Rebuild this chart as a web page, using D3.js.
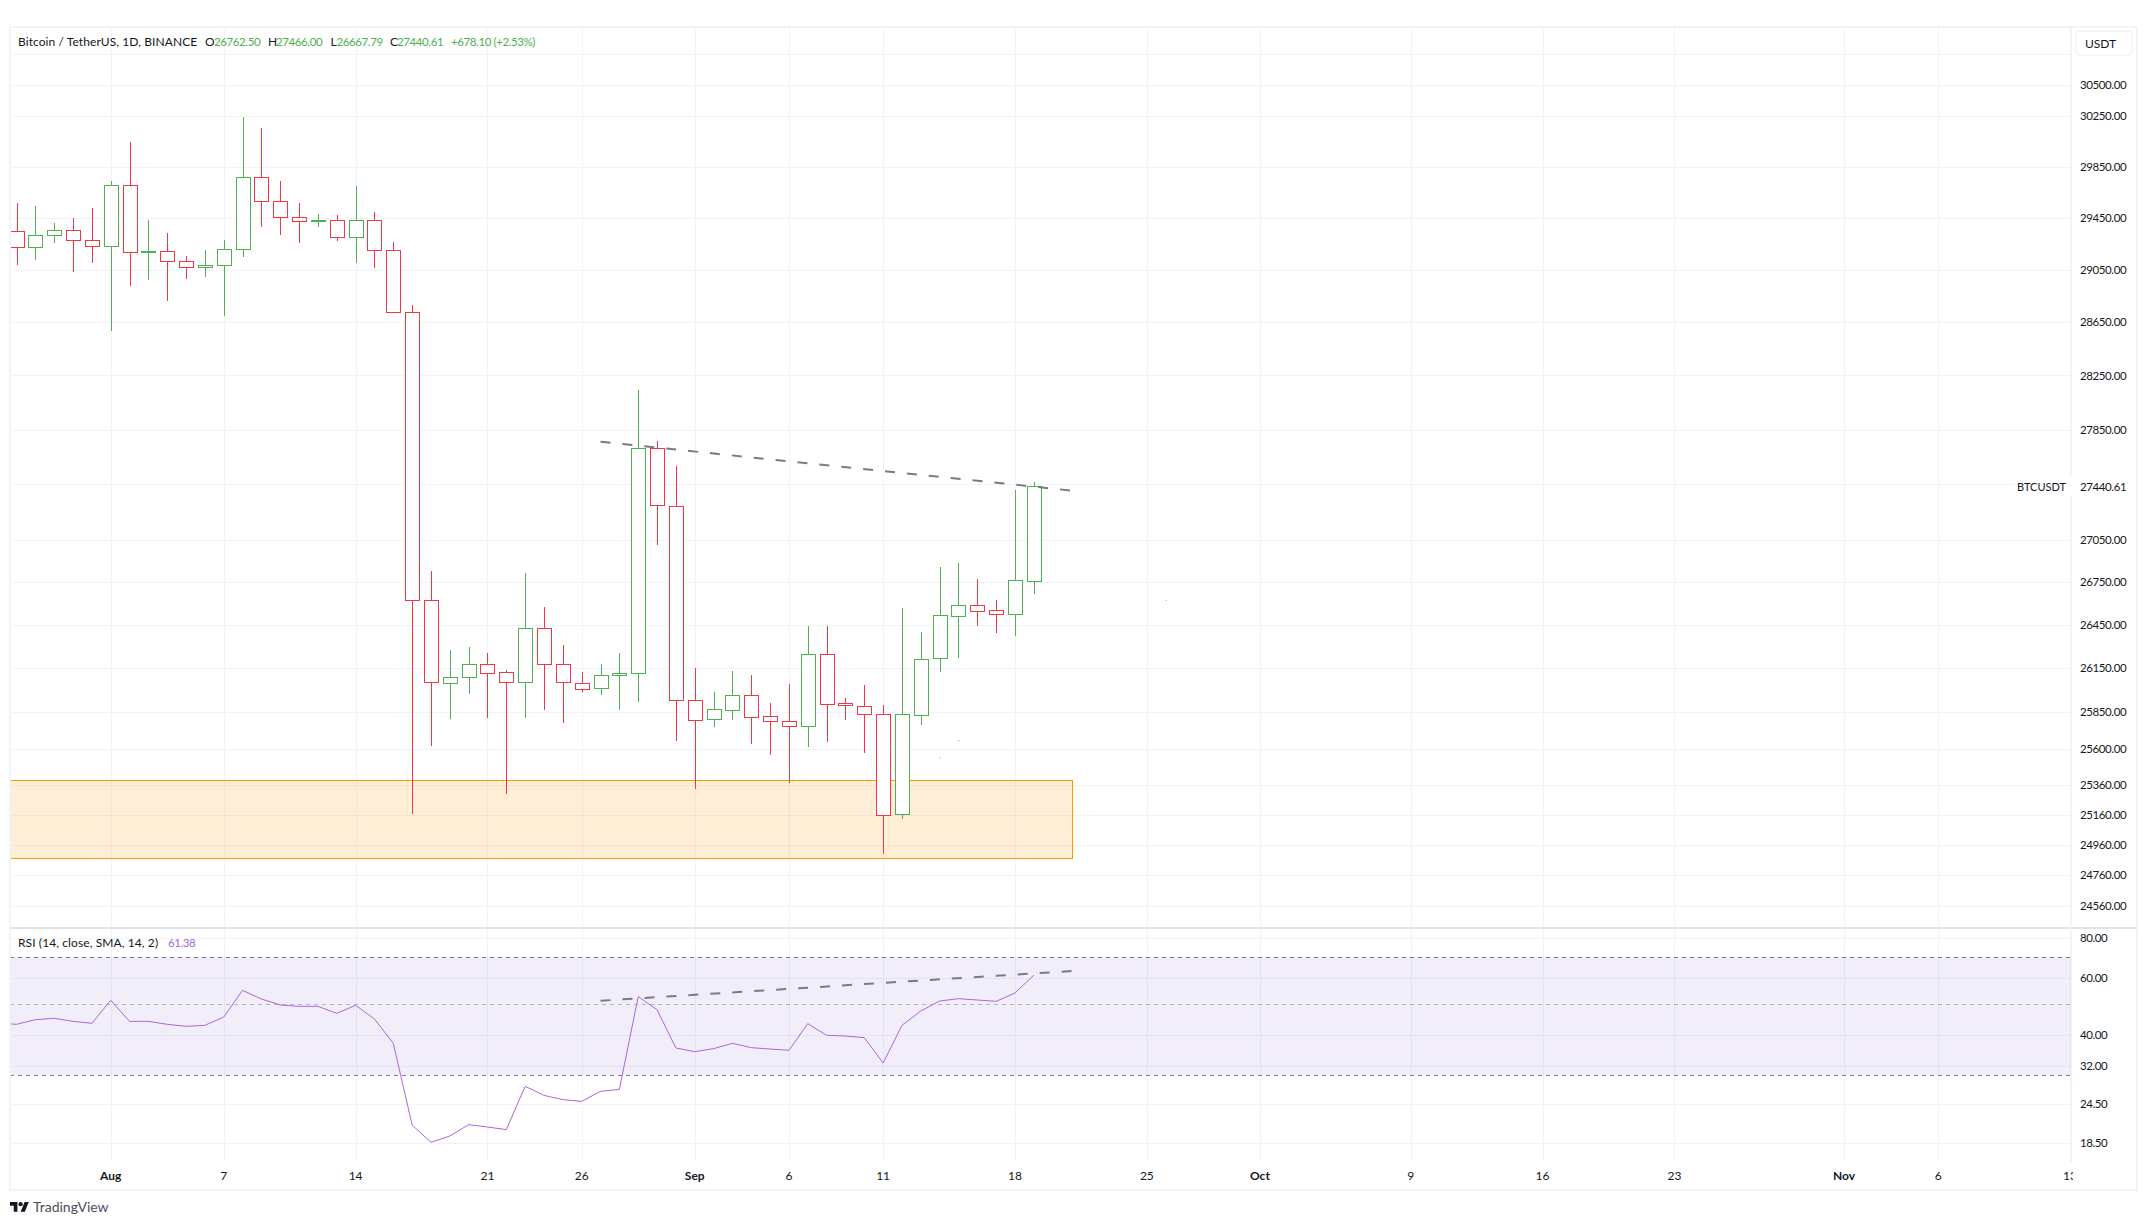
<!DOCTYPE html>
<html>
<head>
<meta charset="utf-8">
<script src="https://cdn.jsdelivr.net/npm/d3@7/dist/d3.min.js"></script>
<style>
html,body{margin:0;padding:0;background:#fff;}
svg{display:block;}
text{font-family:Lato,"Noto Sans",sans-serif;fill:#131722;}
</style>
</head>
<body>
<svg id="chart" width="2146" height="1225"></svg>
<script>
const firstDay = "2023-07-27";
const opens  = [29345,29222,29315,29353,29276,29229,29704,29180,29191,29114,29068,29083,29206,29766,29578,29454,29423,29431,29299,29431,29199,28725,26623,26051,26093,26182,26122,26051,26427,26176,26051,26009,26098,26114,27711,27296,25933,25796,25867,25969,25820,25786,25755,26251,25909,25893,25839,25159,25833,26217,26518,26593,26552,26523,26762.5];
const highs  = [29565,29541,29409,29448,29526,29737,30045,29433,29332,29154,29201,29278,30244,30156,29737,29565,29479,29471,29698,29495,29263,28781,26830,26275,26297,26254,26137,26815,26574,26310,26125,26176,26254,28143,27765,27583,26151,25985,26130,26104,25912,26040,26443,26443,25946,26035,25896,26569,26400,26858,26885,26773,26626,27408,27466];
const lows   = [29085,29124,29256,29032,29101,28583,28925,28970,28810,28978,28994,28697,29146,29378,29315,29256,29378,29271,29101,29062,28725,25164,25618,25802,25972,25807,25296,25807,25862,25773,25985,25964,25862,25917,27012,25651,25330,25747,25794,25631,25558,25371,25613,25646,25794,25571,24899,25129,25760,26122,26220,26443,26393,26374,26667.79];
const closes = [29222,29315,29353,29276,29229,29704,29183,29191,29114,29068,29083,29206,29766,29578,29454,29423,29431,29299,29431,29199,28725,26623,26051,26093,26182,26122,26051,26427,26176,26051,26009,26101,26114,27711,27296,25933,25796,25867,25969,25818,25786,25755,26251,25906,25893,25839,25159,25833,26217,26518,26593,26552,26523,26762.5,27440.61];

const rsiFirstDay = "2023-07-26";
const rsiValues = [43.59,43.18,44.64,45.07,44.11,43.49,51.26,44.11,44.11,43.18,42.57,42.87,45.50,55.05,51.74,49.58,49.10,49.10,46.71,49.46,44.86,37.70,21.04,18.59,19.45,21.09,20.74,20.35,27.73,26.00,25.21,24.91,26.76,27.14,52.62,47.94,36.47,35.52,36.29,37.70,36.55,36.20,35.86,43.38,39.92,39.73,39.26,32.76,42.87,47.50,51.01,51.86,51.38,50.89,54.01,61.38];

const priceTicks = [30500,30250,29850,29450,29050,28650,28250,27850,27050,26750,26450,26150,25850,25600,25360,25160,24960,24760,24560];
const hiddenPriceGrid = [30750,27450];
const rsiTicks = [80,60,40,32,24.5,18.5];
const rsiBands = [70,50,30];

const dateTicks = ["2023-08-01","2023-08-07","2023-08-14","2023-08-21","2023-08-26","2023-09-01","2023-09-06","2023-09-11","2023-09-18","2023-09-25","2023-10-01","2023-10-09","2023-10-16","2023-10-23","2023-11-01","2023-11-06","2023-11-13"];
const dateLabels = ["Aug","7","14","21","26","Sep","6","11","18","25","Oct","9","16","23","Nov","6","13"];
const monthLabels = ["Aug","Sep","Oct","Nov"];

const trendDates = ["2023-08-27","2023-09-21"];
const trendPrices = [27760,27405];
const trendRsi = [51.1,63.2];
const zoneDates = ["2023-07-01","2023-09-21"];
const zonePrices = [25392,24872];
const speckDates = ["2023-09-15","2023-09-14","2023-09-26"];
const speckPrices = [25660,25544,26626];

const lastPrice = 27440.61;
const legendLine = [
  ["Bitcoin / TetherUS, 1D, BINANCE",18,"#131722",0],
  ["O",205,"#131722",0],["26762.50",214,"#4caf50",1],
  ["H",268,"#131722",0],["27466.00",276,"#4caf50",1],
  ["L",330.5,"#131722",0],["26667.79",336.5,"#4caf50",1],
  ["C",390,"#131722",0],["27440.61",397,"#4caf50",1],
  ["+678.10 (+2.53%)",451,"#4caf50",1]
];

const UP="#4caf50", DOWN="#f23645", GRID="#f0f3fa", RSI="#ab66d6", DASH="#787b86";
const L=10, R=2071, FR=2137, TOP=27, DIV=927.5, PB=1162, FB=1190;

const day = s => new Date(s+"T00:00:00Z");
const addDays = (d,n) => new Date(d.getTime()+n*864e5);

const x = d3.scaleUtc().domain([day("2023-08-01"),day("2023-09-18")]).range([110.7,1015]);
const y = d3.scaleLog().domain([30500,24560]).range([85,906]);
const yr = d3.scaleLog().domain([80,18.5]).range([938,1143]);
const px = v => Math.round(v)+0.5;

const svg = d3.select("#chart");
const defs = svg.append("defs");
defs.append("clipPath").attr("id","cMain").append("rect").attr("x",L).attr("y",TOP).attr("width",R-L+1).attr("height",DIV-TOP);
defs.append("clipPath").attr("id","cRsi").append("rect").attr("x",L).attr("y",DIV).attr("width",R-L).attr("height",PB-DIV);
defs.append("clipPath").attr("id","cAxis").append("rect").attr("x",L).attr("y",PB).attr("width",R-L+2).attr("height",FB-PB);

// grid
const grid = svg.append("g").attr("stroke",GRID).attr("stroke-width",1).attr("shape-rendering","crispEdges");
grid.selectAll(".v").data(dateTicks).join("line").attr("class","v")
  .attr("x1",d=>px(x(day(d)))).attr("x2",d=>px(x(day(d)))).attr("y1",TOP).attr("y2",PB);
grid.selectAll(".h").data(priceTicks.concat(hiddenPriceGrid)).join("line").attr("class","h")
  .attr("x1",L).attr("x2",R).attr("y1",d=>px(y(d))).attr("y2",d=>px(y(d)));
grid.selectAll(".r").data(rsiTicks).join("line").attr("class","r")
  .attr("x1",L).attr("x2",R).attr("y1",d=>px(yr(d))).attr("y2",d=>px(yr(d)));

// zone
const main = svg.append("g").attr("clip-path","url(#cMain)");
main.append("rect")
  .attr("x",x(day(zoneDates[0]))).attr("width",x(day(zoneDates[1]))-x(day(zoneDates[0]))+0.5)
  .attr("y",px(y(zonePrices[0]))).attr("height",Math.round(y(zonePrices[1])-y(zonePrices[0])))
  .attr("fill","#ff9800").attr("fill-opacity",0.16).attr("stroke","#ff9800").attr("stroke-width",1).attr("shape-rendering","crispEdges");

// candles
const candles = opens.map((o,i)=>({date:addDays(day(firstDay),i),o,h:highs[i],l:lows[i],c:closes[i]}));
const cg = main.selectAll(".candle").data(candles).join("g").attr("class","candle").attr("shape-rendering","crispEdges");
const col = d => d.c>=d.o?UP:DOWN;
cg.append("line").attr("x1",d=>px(x(d.date))).attr("x2",d=>px(x(d.date)))
  .attr("y1",d=>y(d.h)).attr("y2",d=>y(Math.max(d.o,d.c))).attr("stroke",col);
cg.append("line").attr("x1",d=>px(x(d.date))).attr("x2",d=>px(x(d.date)))
  .attr("y1",d=>y(Math.min(d.o,d.c))).attr("y2",d=>y(d.l)).attr("stroke",col);
cg.append("rect").attr("x",d=>px(x(d.date))-7).attr("width",14)
  .attr("y",d=>px(y(Math.max(d.o,d.c))))
  .attr("height",d=>Math.max(1,Math.round(y(Math.min(d.o,d.c))-y(Math.max(d.o,d.c)))))
  .attr("fill","#fff").attr("stroke",col).attr("stroke-width",1);

// trend price
const dashed = d3.line();
main.append("path").attr("d",dashed(trendDates.map((d,i)=>[x(day(d)),y(trendPrices[i])])))
  .attr("fill","none").attr("stroke",DASH).attr("stroke-width",2).attr("stroke-dasharray","10 12");
main.selectAll(".speck").data(speckDates).join("rect").attr("class","speck")
  .attr("x",d=>x(day(d))).attr("y",(d,i)=>y(speckPrices[i])).attr("width",1).attr("height",1).attr("fill","#999");

// RSI pane
const rp = svg.append("g").attr("clip-path","url(#cRsi)");
rp.append("rect").attr("x",L).attr("width",R-L).attr("y",yr(rsiBands[0])).attr("height",yr(rsiBands[2])-yr(rsiBands[0]))
  .attr("fill","#7e57c2").attr("fill-opacity",0.1);
rp.selectAll(".band").data(rsiBands).join("line").attr("class","band")
  .attr("x1",L).attr("x2",R).attr("y1",d=>px(yr(d))).attr("y2",d=>px(yr(d)))
  .attr("stroke",DASH).attr("stroke-dasharray","4 4").attr("stroke-opacity",d=>d===50?0.5:1)
  .attr("shape-rendering","crispEdges");
const rline = d3.line().x((d,i)=>x(addDays(day(rsiFirstDay),i))).y(d=>yr(d));
rp.append("path").attr("d",rline(rsiValues)).attr("fill","none").attr("stroke",RSI).attr("stroke-width",1);
rp.append("path").attr("d",dashed(trendDates.map((d,i)=>[x(day(d)),yr(trendRsi[i])])))
  .attr("fill","none").attr("stroke",DASH).attr("stroke-width",2).attr("stroke-dasharray","10 12");

// frame
const fr = svg.append("g").attr("fill","none").attr("shape-rendering","crispEdges");
fr.append("rect").attr("x",L).attr("y",TOP).attr("width",FR-L).attr("height",FB-TOP).attr("stroke",GRID).attr("stroke-width",2);
fr.append("line").attr("x1",L).attr("x2",FR).attr("y1",DIV).attr("y2",DIV).attr("stroke","#e0e3eb").attr("stroke-width",2);
fr.append("line").attr("x1",R).attr("x2",R).attr("y1",TOP).attr("y2",PB).attr("stroke",GRID).attr("stroke-width",1);

// price axes
const NUMF = 11.5, NUMS = "-0.4px", WORDF = 12;
const ax = d3.axisRight(y).tickValues(priceTicks).tickSize(0).tickPadding(0).tickFormat(d3.format(".2f"));
const axG = svg.append("g").attr("transform",`translate(2080,0)`).call(ax);
const axR = d3.axisRight(yr).tickValues(rsiTicks).tickSize(0).tickPadding(0).tickFormat(d3.format(".2f"));
const axRG = svg.append("g").attr("transform",`translate(2080,0)`).call(axR);
[axG,axRG].forEach(g=>{g.attr("font-family",null); g.select(".domain").remove();
  g.selectAll("text").attr("font-size",NUMF).style("letter-spacing",NUMS).style("font-family","Lato").style("fill","#131722");});

svg.append("rect").attr("x",2014).attr("y",y(lastPrice)-9).attr("width",60).attr("height",20).attr("fill","#fff");
svg.append("text").attr("x",2066).attr("y",y(lastPrice)+1.5).attr("dy","0.32em").attr("text-anchor","end").attr("font-size",11).text("BTCUSDT");
svg.append("text").attr("x",2080).attr("y",y(lastPrice)+1.5).attr("dy","0.32em").attr("font-size",NUMF).style("letter-spacing",NUMS).text(d3.format(".2f")(lastPrice));

// unit box
svg.append("rect").attr("x",2076).attr("y",31).attr("width",56).attr("height",24).attr("rx",4).attr("fill","#fff").attr("stroke","#eceef3").attr("stroke-width",1);
svg.append("text").attr("x",2085).attr("y",43.5).attr("dy","0.35em").attr("font-size",WORDF).text("USDT");

// date axis
const xAxis = svg.append("g").attr("clip-path","url(#cAxis)");
xAxis.selectAll("text").data(dateTicks).join("text")
  .attr("x",d=>x(day(d))).attr("y",1176).attr("dy","0.35em").attr("text-anchor","middle").attr("font-size",WORDF)
  .attr("font-weight",(d,i)=>monthLabels.includes(dateLabels[i])?700:400)
  .text((d,i)=>dateLabels[i]);

// legends
svg.selectAll(".lg").data(legendLine).join("text").attr("class","lg")
  .attr("x",d=>d[1]).attr("y",41.5).attr("dy","0.35em")
  .attr("font-size",d=>d[3]?NUMF:WORDF).style("letter-spacing",d=>d[3]?NUMS:"0.08px")
  .style("fill",d=>d[2]).text(d=>d[0]);
svg.append("text").attr("x",18).attr("y",942.5).attr("dy","0.35em").attr("font-size",WORDF).style("letter-spacing","0.1px").text("RSI (14, close, SMA, 14, 2)");
svg.append("text").attr("x",168).attr("y",942.5).attr("dy","0.35em").attr("font-size",NUMF).style("letter-spacing",NUMS).style("fill",RSI).text(d3.format(".2f")(rsiValues[rsiValues.length-1]));

// logo
const logo = svg.append("g").attr("transform","translate(10,1200) scale(0.53)").attr("fill","#131722");
logo.append("path").attr("d","M14 22H7V11H0V4h14v18zM28 22h-8l7.5-18h8L28 22z");
logo.append("circle").attr("cx",20).attr("cy",8).attr("r",4);
svg.append("text").attr("x",33).attr("y",1207).attr("dy","0.35em").attr("font-size",14).style("fill","#4a4e5c").text("TradingView");
</script>
</body>
</html>
